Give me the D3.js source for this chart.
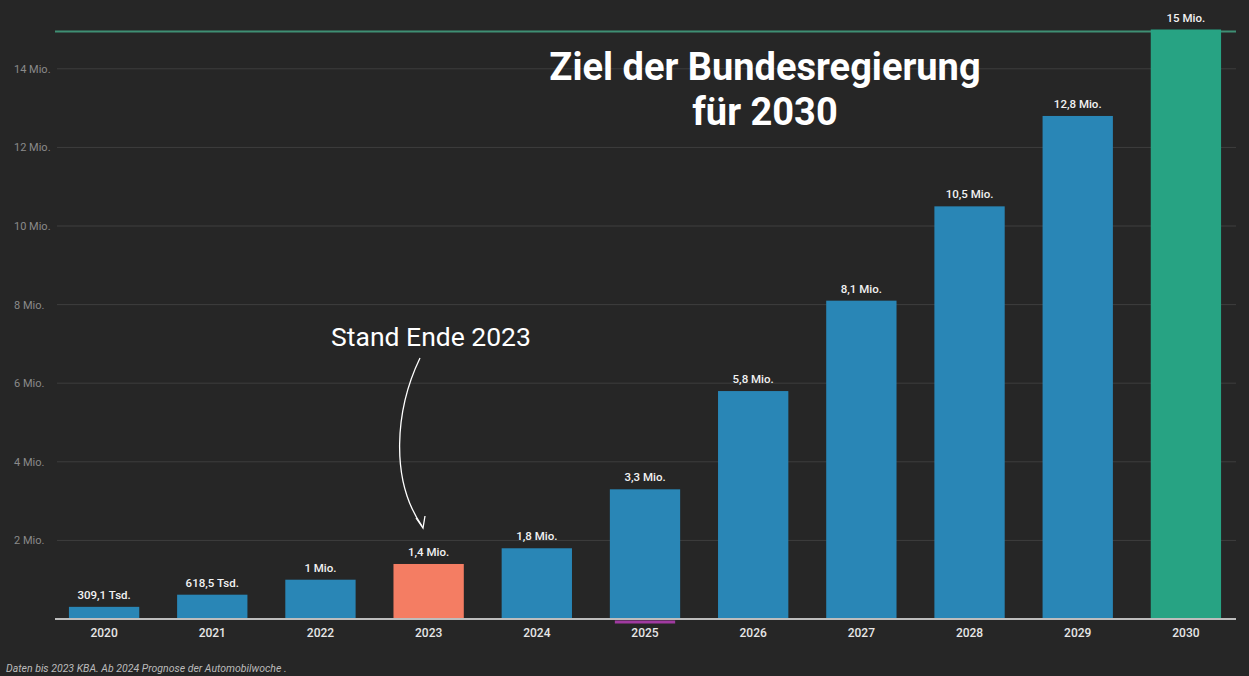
<!DOCTYPE html><html><head><meta charset="utf-8"><script src="https://cdn.jsdelivr.net/npm/d3@7"></script>
<style>body{margin:0;background:#262626}</style></head><body><svg id="c" width="1249" height="676"></svg>
<script>
const years=["2020","2021","2022","2023","2024","2025","2026","2027","2028","2029","2030"];
const values=[0.3091,0.6185,1.0,1.4,1.8,3.3,5.8,8.1,10.5,12.8,15];
const labels=["309,1 Tsd.","618,5 Tsd.","1 Mio.","1,4 Mio.","1,8 Mio.","3,3 Mio.","5,8 Mio.","8,1 Mio.","10,5 Mio.","12,8 Mio.","15 Mio."];
const ticks=[2,4,6,8,10,12,14];
const target=15;
const svg=d3.select("#c");
svg.append("rect").attr("width",1249).attr("height",676).attr("fill","#262626");
const x=d3.scaleBand().domain(years).range([50,1240]).paddingInner(0.35).paddingOuter(0.175);
const y=d3.scaleLinear().domain([0,15]).range([619,29.5]);
const f="Roboto, sans-serif";
svg.selectAll(".g").data(ticks).join("line").attr("x1",57).attr("x2",1236).attr("y1",d=>y(d)).attr("y2",d=>y(d)).attr("stroke","#3e3e3e");
svg.selectAll(".tl").data(ticks).join("text").attr("x",14).attr("y",d=>y(d)+4).attr("fill","#8a8a8a").attr("font-family",f).attr("font-size",11).text(d=>d+" Mio.");
svg.append("line").attr("x1",55).attr("x2",1236).attr("y1",y(target)+2).attr("y2",y(target)+2).attr("stroke","#3f8f74").attr("stroke-width",2);
const col=d=>d==="2023"?"#f47d63":d==="2030"?"#27a383":"#2986b6";
svg.selectAll(".b").data(years).join("rect").attr("x",d=>x(d)).attr("width",x.bandwidth()).attr("y",(d,i)=>y(values[i])).attr("height",(d,i)=>y(0)-y(values[i])).attr("fill",col);
svg.append("line").attr("x1",x("2025")+5).attr("x2",x("2025")+x.bandwidth()-5).attr("y1",622).attr("y2",622).attr("stroke","#a03aa0").attr("stroke-width",3);
svg.append("line").attr("x1",55).attr("x2",1236).attr("y1",619).attr("y2",619).attr("stroke","#bdbdbd").attr("stroke-width",2);
svg.selectAll(".vl").data(years).join("text").attr("x",d=>x(d)+x.bandwidth()/2).attr("y",(d,i)=>y(values[i])-8).attr("text-anchor","middle").attr("fill","#f2f2f2").attr("font-family",f).attr("font-weight",500).attr("font-size",11.5).text((d,i)=>labels[i]);
svg.selectAll(".xl").data(years).join("text").attr("x",d=>x(d)+x.bandwidth()/2).attr("y",637).attr("text-anchor","middle").attr("fill","#e6e6e6").attr("font-family",f).attr("font-weight",500).attr("font-size",12).text(d=>d);
svg.append("text").attr("x",6).attr("y",672).attr("fill","#bbbbbb").attr("font-family",f).attr("font-style","italic").attr("font-size",10.5).text("Daten bis 2023 KBA. Ab 2024 Prognose der Automobilwoche .");
svg.append("text").attr("x",765).attr("y",80).attr("text-anchor","middle").attr("fill","#fff").attr("font-family",f).attr("font-weight",700).attr("font-size",38).text("Ziel der Bundesregierung");
svg.append("text").attr("x",765).attr("y",125).attr("text-anchor","middle").attr("fill","#fff").attr("font-family",f).attr("font-weight",700).attr("font-size",38).text("für 2030");
svg.append("text").attr("x",431).attr("y",346).attr("text-anchor","middle").attr("fill","#fff").attr("font-family",f).attr("font-size",26.5).text("Stand Ende 2023");
svg.append("path").attr("d","M420,358 C395,410 390,480 422,526").attr("fill","none").attr("stroke","#fff").attr("stroke-width",1.3);
svg.append("path").attr("d","M416,518 L423,528 L425,516").attr("fill","none").attr("stroke","#fff").attr("stroke-width",1.3);
</script></body></html>
